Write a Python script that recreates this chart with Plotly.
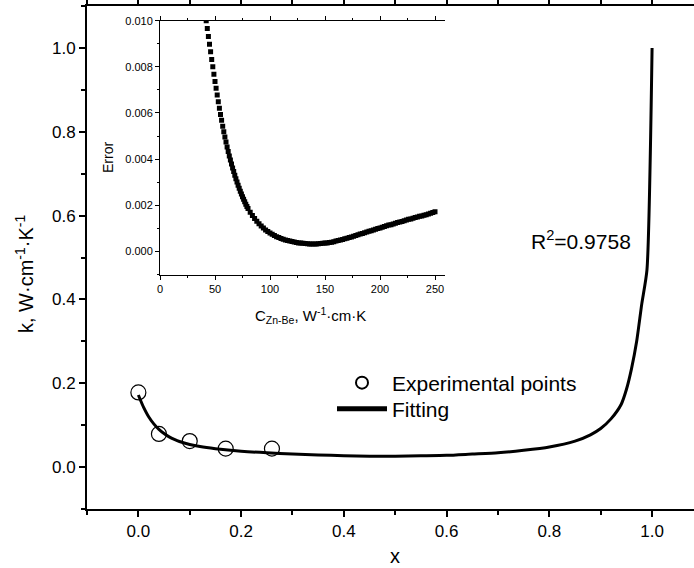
import plotly.graph_objects as go

# Main plot data
exp_x = [0.0, 0.04, 0.10, 0.17, 0.26]
exp_k = [0.178, 0.079, 0.062, 0.044, 0.044]

fit_x = [0.0, 0.005, 0.01, 0.02, 0.03, 0.04, 0.05, 0.06, 0.07, 0.08, 0.10, 0.12,
         0.15, 0.20, 0.25, 0.30, 0.35, 0.40, 0.45, 0.50, 0.55, 0.60, 0.65, 0.70,
         0.75, 0.80, 0.85, 0.88, 0.90, 0.92, 0.94, 0.95, 0.96, 0.97, 0.98, 0.99, 1.0]
fit_k = [0.172, 0.157, 0.143, 0.120, 0.103, 0.090, 0.080, 0.072, 0.066, 0.061, 0.054, 0.049,
         0.044, 0.038, 0.034, 0.031, 0.029, 0.027, 0.026, 0.026, 0.027, 0.028, 0.031, 0.034,
         0.040, 0.048, 0.062, 0.077, 0.092, 0.115, 0.150, 0.185, 0.235, 0.300, 0.390, 0.470, 1.0]

# Inset data
err_c = list(range(42, 81)) + list(range(82, 251, 2))
err_e = [0.01000, 0.00966, 0.00932, 0.00898, 0.00865, 0.00832, 0.00800, 0.00768, 0.00737, 0.00707,
         0.00678, 0.00649, 0.00621, 0.00594, 0.00568, 0.00543, 0.00519, 0.00496, 0.00474, 0.00453,
         0.00433, 0.00414, 0.00396, 0.00379, 0.00362, 0.00346, 0.00330, 0.00315, 0.00301, 0.00287,
         0.00274, 0.00261, 0.00249, 0.00237, 0.00226, 0.00215, 0.00205, 0.00195, 0.00186,
         # step 2 from 82
         0.00170, 0.00156, 0.00143, 0.00131, 0.00120, 0.00110, 0.00101, 0.00093, 0.00086, 0.00080,
         0.00074, 0.00069, 0.00064, 0.00060, 0.00056, 0.00053, 0.00050, 0.00047, 0.00045, 0.00043,
         0.00041, 0.00039, 0.00037, 0.00036, 0.00035, 0.00034, 0.00033, 0.00032, 0.00032, 0.00032,
         0.00032, 0.00033, 0.00034, 0.00035, 0.00036, 0.00037, 0.00039, 0.00040, 0.00042, 0.00045,
         0.00047, 0.00050, 0.00052, 0.00055, 0.00057, 0.00060, 0.00063, 0.00066, 0.00069, 0.00072,
         0.00075, 0.00078, 0.00081, 0.00084, 0.00087, 0.00090, 0.00093, 0.00096, 0.00099, 0.00102,
         0.00105, 0.00108, 0.00111, 0.00114, 0.00116, 0.00119, 0.00122, 0.00125, 0.00128, 0.00130,
         0.00133, 0.00136, 0.00139, 0.00141, 0.00144, 0.00147, 0.00149, 0.00152, 0.00154, 0.00157,
         0.00159, 0.00162, 0.00166, 0.00169, 0.00172]

main_ticks = [0.0, 0.2, 0.4, 0.6, 0.8, 1.0]
inset_xticks = [0, 50, 100, 150, 200, 250]
inset_yticks = [0.000, 0.002, 0.004, 0.006, 0.008, 0.010]

FONT = "Liberation Sans, Arial, sans-serif"
W, H = 694, 568
L, R, T, B = 87, 0, 6, 59
PW, PH = W - L - R, H - T - B

def px_x(p):
    return (p - L) / PW

def px_y(p):
    return (H - B - p) / PH

fig = go.Figure()
fig.add_trace(go.Scatter(x=exp_x, y=exp_k, mode="markers", name="Experimental points",
                         marker=dict(symbol="circle-open", size=15, color="black",
                                     line=dict(width=1.2, color="black")),
                         xaxis="x", yaxis="y", legend="legend"))
fig.add_trace(go.Scatter(x=fit_x, y=fit_k, mode="lines", name="Fitting",
                         line=dict(color="black", width=3, shape="spline", smoothing=0.6),
                         xaxis="x", yaxis="y", legend="legend2"))
fig.add_trace(go.Scatter(x=err_c, y=err_e, mode="markers", showlegend=False,
                         marker=dict(symbol="square", size=5, color="black"),
                         xaxis="x2", yaxis="y2"))

inset_x0, inset_x1 = px_x(160), px_x(445)
inset_y0, inset_y1 = px_y(274.5), px_y(20.7)

common = dict(showgrid=False, zeroline=False, automargin=False, tickcolor="black", linecolor="black")
leg_common = dict(xanchor="left", yanchor="middle", bgcolor="rgba(0,0,0,0)",
                  font=dict(size=21), itemsizing="constant", borderwidth=0, itemwidth=50)

fig.update_layout(
    template="none",
    width=W, height=H,
    margin=dict(l=L, r=R, t=T, b=B, autoexpand=False),
    paper_bgcolor="white", plot_bgcolor="white",
    font=dict(family=FONT, color="black"),
    xaxis=dict(domain=[0, 1], range=[-0.1, 1.0816], tickvals=main_ticks,
               ticktext=[f"{v:.1f}" for v in main_ticks],
               ticks="outside", ticklen=6, tickwidth=2,
               minor=dict(dtick=0.1, tick0=0, ticks="outside", ticklen=4, tickwidth=2, tickcolor="black"),
               showline=True, linewidth=2, mirror="ticks",
               tickfont=dict(size=17), anchor="y", **common),
    yaxis=dict(domain=[0, 1], range=[-0.1, 1.1], tickvals=main_ticks,
               ticktext=[f"{v:.1f}" for v in main_ticks],
               ticks="outside", ticklen=6, tickwidth=2,
               minor=dict(dtick=0.1, tick0=0, ticks="outside", ticklen=4, tickwidth=2, tickcolor="black"),
               showline=True, linewidth=2, mirror=False,
               tickfont=dict(size=17), anchor="x", **common),
    xaxis2=dict(domain=[inset_x0, inset_x1], range=[0, (445 - 160) / 1.1], anchor="y2",
                tickvals=inset_xticks, ticks="outside", ticklen=4,
                minor=dict(dtick=25, tick0=0, ticks="outside", ticklen=2, tickcolor="black"),
                showline=True, linewidth=1, mirror="ticks",
                tickfont=dict(size=11), **common),
    yaxis2=dict(domain=[inset_y0, inset_y1], range=[-0.001, 0.010], anchor="x2",
                tickvals=inset_yticks, ticktext=[f"{v:.3f}" for v in inset_yticks],
                ticks="outside", ticklen=4,
                minor=dict(dtick=0.001, tick0=0, ticks="outside", ticklen=2, tickcolor="black"),
                showline=True, linewidth=1, mirror=False,
                tickfont=dict(size=11), **common),
    legend=dict(x=px_x(332), y=px_y(383), **leg_common),
    legend2=dict(x=px_x(332), y=px_y(409), **leg_common),
    showlegend=True,
    annotations=[
        dict(text="k, W·cm<sup>-1</sup>·K<sup>-1</sup>", x=px_x(25), y=px_y(274), xref="paper", yref="paper",
             showarrow=False, textangle=-90, font=dict(size=20), xanchor="center", yanchor="middle"),
        dict(text="x", x=px_x(395), y=px_y(556), xref="paper", yref="paper",
             showarrow=False, font=dict(size=20), xanchor="center", yanchor="middle"),
        dict(text="R<sup>2</sup>=0.9758", x=px_x(633), y=px_y(240), xref="paper", yref="paper",
             showarrow=False, font=dict(size=21), xanchor="right", yanchor="middle"),
        dict(text="C<sub>Zn-Be</sub>, W<sup>-1</sup>·cm·K", x=px_x(310), y=px_y(315), xref="paper", yref="paper",
             showarrow=False, font=dict(size=15), xanchor="center", yanchor="middle"),
        dict(text="Error", x=px_x(108), y=px_y(158), xref="paper", yref="paper",
             showarrow=False, textangle=-90, font=dict(size=14), xanchor="center", yanchor="middle"),
    ],
)

fig.write_html("out.html", config={"displayModeBar": False},
               post_script="document.body.style.margin='0';document.body.style.overflow='hidden';")
